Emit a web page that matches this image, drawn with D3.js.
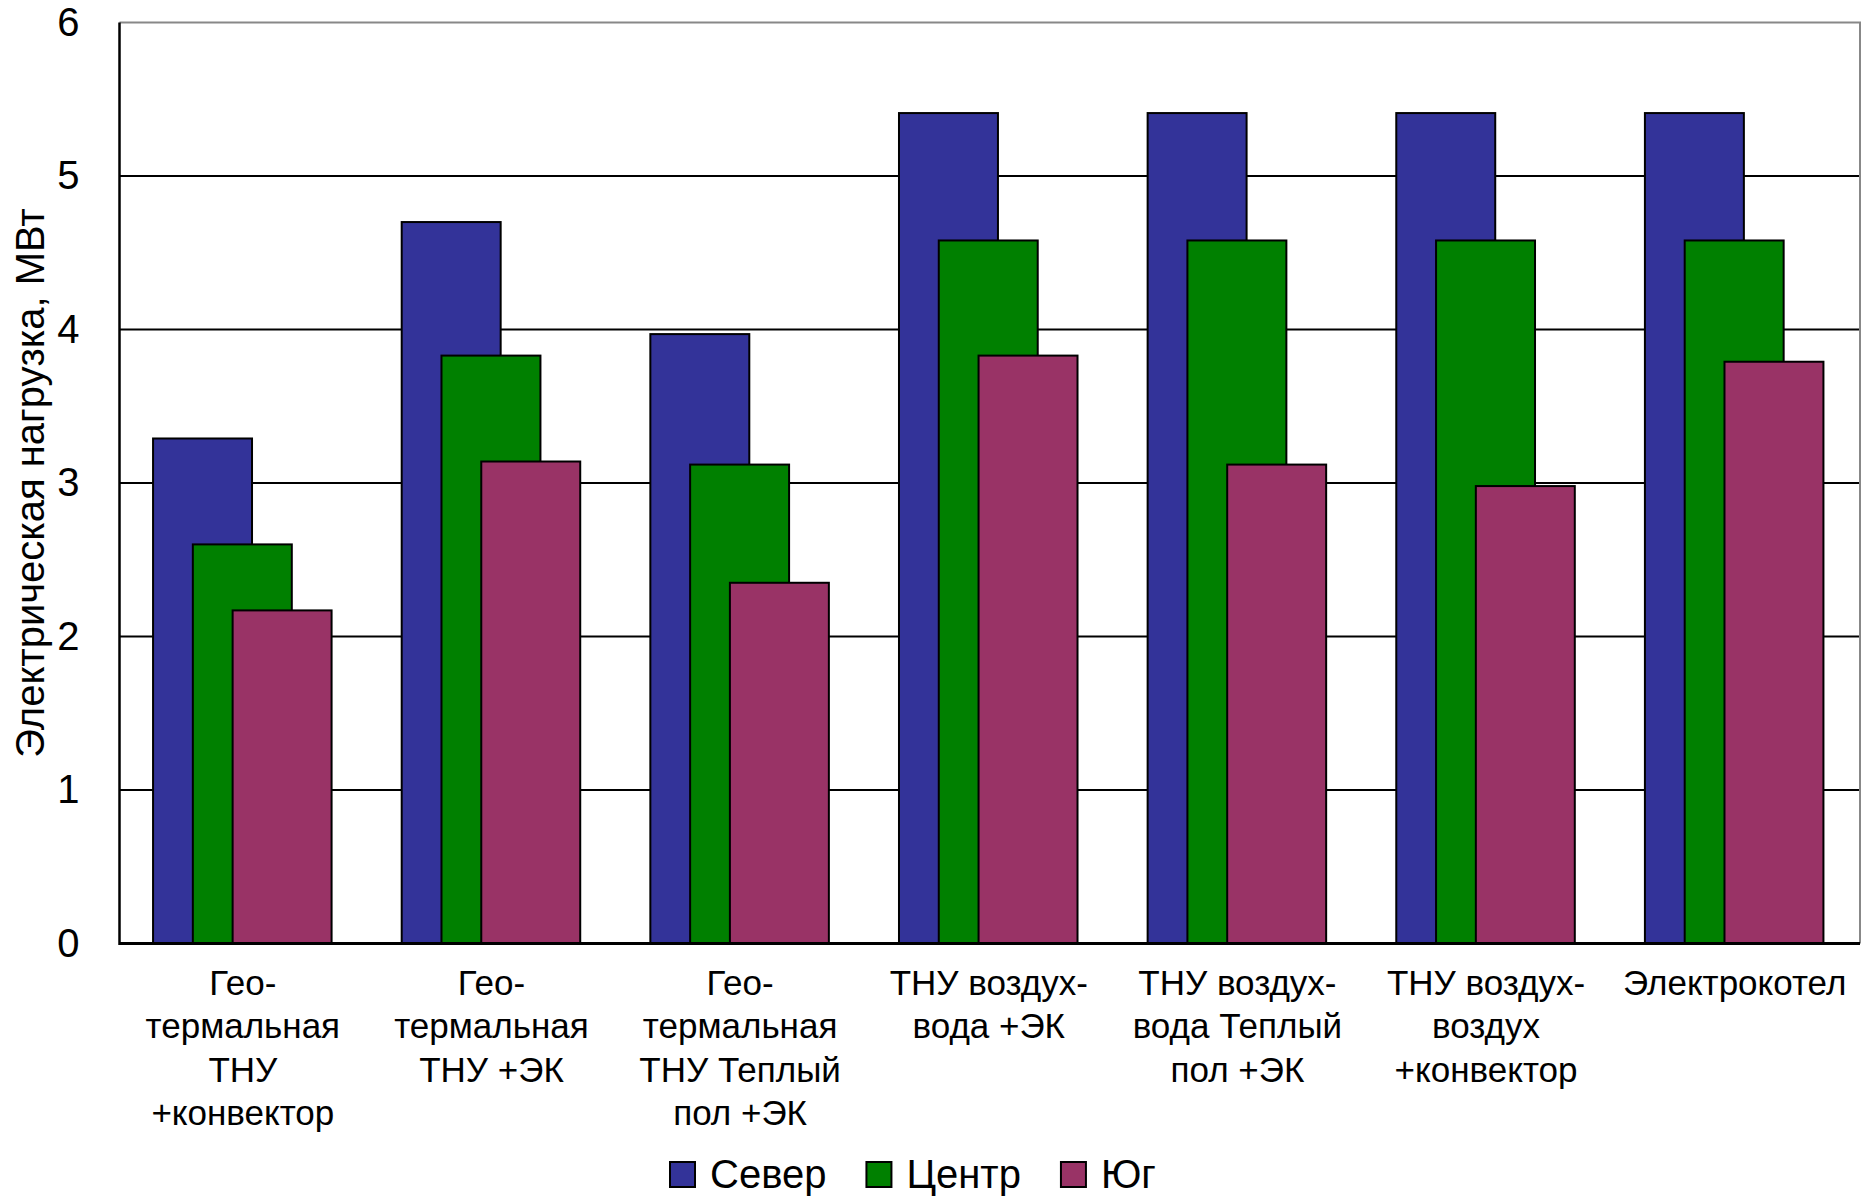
<!DOCTYPE html>
<html>
<head>
<meta charset="utf-8">
<script src="https://cdn.jsdelivr.net/npm/d3@7/dist/d3.min.js"></script>
<style>
  html, body { margin: 0; padding: 0; background: #fff; }
  svg { display: block; font-family: "Liberation Sans", Arial, sans-serif; }
</style>
</head>
<body>
<svg id="chart" width="1868" height="1198"></svg>
<script>
// Heating options (multi-line labels, "\n" marks a line break)
const categories = [
  "Гео-\nтермальная\nТНУ\n+конвектор",
  "Гео-\nтермальная\nТНУ +ЭК",
  "Гео-\nтермальная\nТНУ Теплый\nпол +ЭК",
  "ТНУ воздух-\nвода +ЭК",
  "ТНУ воздух-\nвода Теплый\nпол +ЭК",
  "ТНУ воздух-\nвоздух\n+конвектор",
  "Электрокотел"
];

// Electric load by region, MW
const seriesNames = ["Север", "Центр", "Юг"];
const sever = [3.29, 4.70, 3.97, 5.41, 5.41, 5.41, 5.41];
const centr = [2.60, 3.83, 3.12, 4.58, 4.58, 4.58, 4.58];
const yug   = [2.17, 3.14, 2.35, 3.83, 3.12, 2.98, 3.79];
const seriesValues = [sever, centr, yug];
const seriesColors = ["#333399", "#008000", "#993366"];

const yTicks = [0, 1, 2, 3, 4, 5, 6];
const yTitle = "Электрическая нагрузка, МВт";

const svg = d3.select("#chart");
const plotL = 119.5, plotR = 1860, plotT = 22.5, plotB = 943.5;

const x = d3.scaleBand().domain(categories).range([plotL, plotR]).paddingInner(0).paddingOuter(0);
const y = d3.scaleLinear().domain([0, 6]).range([plotB, plotT]);

const B = x.bandwidth();
const barW = B * 0.398;
const step = B * 0.16;
const groupLeft = (B - (barW + 2 * step)) / 2 - 1.5;
const xs = d3.scalePoint().domain(seriesNames).range([groupLeft, groupLeft + 2 * step]);

// Horizontal gridlines (the top one belongs to the grey plot frame)
svg.append("g")
  .selectAll("line")
  .data(yTicks.filter(t => t > 0 && t < 6))
  .join("line")
  .attr("x1", plotL).attr("x2", plotR)
  .attr("y1", d => y(d)).attr("y2", d => y(d))
  .attr("stroke", "#000").attr("stroke-width", 2);

// Plot frame: grey top and right edges
svg.append("path")
  .attr("d", `M${plotL},${y(6)}H${plotR}V${plotB}`)
  .attr("fill", "none").attr("stroke", "#888").attr("stroke-width", 2);

// Bars, drawn series by series so later regions overlap earlier ones
seriesNames.forEach((name, si) => {
  svg.append("g")
    .selectAll("rect")
    .data(categories.map((c, i) => ({ c, v: seriesValues[si][i] })))
    .join("rect")
    .attr("x", d => x(d.c) + xs(name))
    .attr("y", d => y(d.v))
    .attr("width", barW)
    .attr("height", d => y(0) - y(d.v))
    .attr("fill", seriesColors[si])
    .attr("stroke", "#000")
    .attr("stroke-width", 2);
});

// Axis lines
svg.append("line").attr("x1", plotL).attr("x2", plotL).attr("y1", plotT).attr("y2", plotB + 1.5)
  .attr("stroke", "#000").attr("stroke-width", 2.5);
svg.append("line").attr("x1", plotL).attr("x2", plotR).attr("y1", plotB).attr("y2", plotB)
  .attr("stroke", "#000").attr("stroke-width", 3);

// Y axis labels
const yAxis = svg.append("g")
  .attr("transform", `translate(${plotL},0)`)
  .call(d3.axisLeft(y).tickValues(yTicks).tickFormat(d3.format("d")).tickSize(0).tickPadding(40));
yAxis.select(".domain").remove();
yAxis.selectAll("text")
  .attr("font-size", 40)
  .attr("font-family", "Liberation Sans, Arial, sans-serif")
  .attr("fill", "#000");

// Y axis title
svg.append("text")
  .attr("transform", `translate(44,${(plotT + plotB) / 2}) rotate(-90)`)
  .attr("text-anchor", "middle")
  .attr("font-size", 40)
  .attr("fill", "#000")
  .text(yTitle);

// Category labels
const xAxis = svg.append("g")
  .attr("transform", `translate(0,${plotB})`)
  .call(d3.axisBottom(x).tickSize(0).tickFormat(""));
xAxis.select(".domain").remove();
xAxis.selectAll(".tick").each(function (d) {
  const t = d3.select(this).append("text")
    .attr("text-anchor", "middle")
    .attr("font-size", 35)
    .attr("font-family", "Liberation Sans, Arial, sans-serif")
    .attr("fill", "#000");
  d.split("\n").forEach((line, i) => {
    t.append("tspan").attr("x", -1).attr("y", 51 + i * 43.5).text(line);
  });
});

// Legend
const legend = svg.append("g");
let lx = 670;
const ly = 1162;
seriesNames.forEach((name, si) => {
  legend.append("rect")
    .attr("x", lx).attr("y", ly).attr("width", 25).attr("height", 25)
    .attr("fill", seriesColors[si]).attr("stroke", "#000").attr("stroke-width", 2);
  const t = legend.append("text")
    .attr("x", lx + 40).attr("y", ly + 26)
    .attr("font-size", 40).attr("fill", "#000")
    .text(name);
  lx += 40 + t.node().getComputedTextLength() + 40;
});
</script>
</body>
</html>
